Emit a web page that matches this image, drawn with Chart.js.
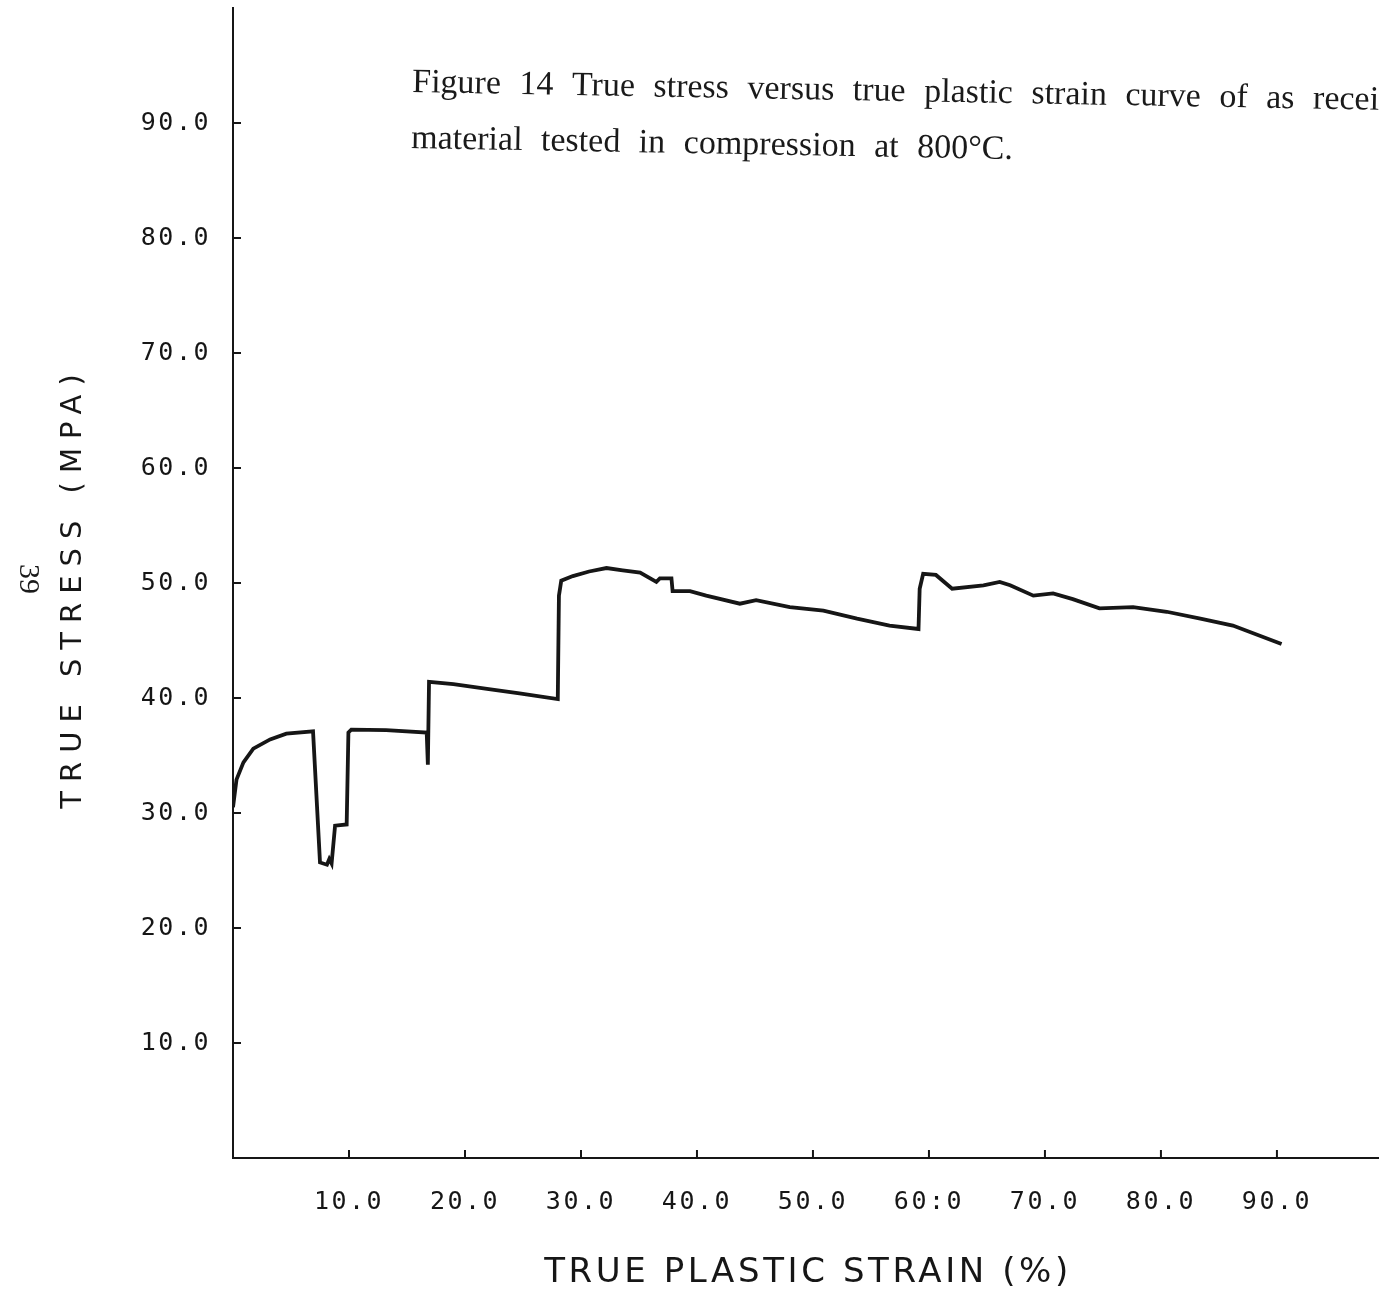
<!DOCTYPE html>
<html>
<head>
<meta charset="utf-8">
<script src="https://cdn.jsdelivr.net/npm/chart.js@4/dist/chart.umd.min.js"></script>
<style>
  html, body { margin: 0; padding: 0; background: #fff; }
  #wrap { width: 1379px; height: 1294px; }
</style>
</head>
<body>
<div id="wrap"><canvas id="stressChart" width="1379" height="1294"></canvas></div>
<script>
// Curve: true plastic strain (%) and true stress (MPa)
const strain = [0, 0.3, 0.9, 1.75, 3.2, 4.6, 6.9, 7.5, 8.1, 8.3, 8.5, 8.8, 9.8, 9.95, 10.2, 13.2, 16.7, 16.8, 16.9,
    19.0, 21.9, 24.7, 28.0, 28.1, 28.3, 29.3, 30.7, 32.2, 33.6, 35.1, 36.5, 36.8, 37.8, 37.9, 39.4, 40.8,
    43.7, 45.1, 48.0, 50.9, 53.8, 56.6, 59.1, 59.2, 59.5, 60.6, 62.0, 64.7, 66.1, 67.0, 69.0, 70.7, 72.4,
    74.7, 77.6, 80.5, 83.4, 86.2, 90.4];
const stress = [30.5, 32.9, 34.4, 35.6, 36.4, 36.9, 37.1, 25.7, 25.5, 26.0, 25.6, 28.9, 29.0, 37.0, 37.25, 37.2, 37.0, 34.2, 41.4,
    41.2, 40.8, 40.4, 39.9, 48.9, 50.2, 50.6, 51.0, 51.3, 51.1, 50.9, 50.1, 50.4, 50.4, 49.3, 49.3, 48.9,
    48.2, 48.5, 47.9, 47.6, 46.9, 46.3, 46.0, 49.5, 50.8, 50.7, 49.5, 49.8, 50.1, 49.8, 48.9, 49.1, 48.6,
    47.8, 47.9, 47.5, 46.9, 46.3, 44.7];

// Tick values and the labels printed next to them
const xTickValues = [10, 20, 30, 40, 50, 60, 70, 80, 90];
const xTickLabels = ['10.0', '20.0', '30.0', '40.0', '50.0', '60:0', '70.0', '80.0', '90.0'];
const yTickValues = [10, 20, 30, 40, 50, 60, 70, 80, 90];
const yTickLabels = ['10.0', '20.0', '30.0', '40.0', '50.0', '60.0', '70.0', '80.0', '90.0'];

const xTitle = 'TRUE PLASTIC STRAIN (%)';
const yTitle = 'TRUE STRESS (MPA)';
const captionLines = [
    'Figure 14 True stress versus true plastic strain curve of as recei',
    'material tested in compression at 800\u00b0C.'
];
const pageNumber = '39';

const ink = '#161616';
const tickFont = { family: "'DejaVu Sans Mono', 'Liberation Mono', monospace", size: 25 };
const titleFamily = "'DejaVu Sans', 'Liberation Sans', sans-serif";

function labelFor(values, labels, v) {
    const i = values.indexOf(v);
    return i >= 0 ? labels[i] : '';
}

// Plotter lettering is spaced out a bit
const spacingPlugin = {
    id: 'spacing',
    beforeDraw(chart) {
        chart.ctx.letterSpacing = '2.5px';
    }
};

// Inward tick marks, axis titles, caption and page number
const extrasPlugin = {
    id: 'extras',
    afterDraw(chart) {
        const ctx = chart.ctx;
        const x = chart.scales.x;
        const y = chart.scales.y;
        const area = chart.chartArea;

        ctx.save();
        ctx.strokeStyle = ink;
        ctx.lineWidth = 2;
        xTickValues.forEach(v => {
            const px = x.getPixelForValue(v);
            ctx.beginPath();
            ctx.moveTo(px, area.bottom);
            ctx.lineTo(px, area.bottom - 8);
            ctx.stroke();
        });
        yTickValues.forEach(v => {
            const py = y.getPixelForValue(v);
            ctx.beginPath();
            ctx.moveTo(area.left, py);
            ctx.lineTo(area.left + 8, py);
            ctx.stroke();
        });
        ctx.restore();

        // axis titles
        ctx.save();
        ctx.fillStyle = ink;
        ctx.textAlign = 'center';
        ctx.textBaseline = 'middle';
        ctx.font = '34px ' + titleFamily;
        ctx.letterSpacing = '3.6px';
        ctx.fillText(xTitle, (area.left + area.right) / 2 + 2, 1273);
        ctx.translate(73, 591);
        ctx.rotate(-Math.PI / 2);
        ctx.font = '29px ' + titleFamily;
        ctx.letterSpacing = '9px';
        ctx.fillText(yTitle, 4, 0);
        ctx.restore();

        // typed caption, slightly skewed on the page
        ctx.save();
        ctx.fillStyle = '#1a1a1a';
        ctx.font = "34px 'Liberation Serif', 'DejaVu Serif', serif";
        ctx.letterSpacing = '0px';
        ctx.wordSpacing = '10px';
        ctx.textBaseline = 'alphabetic';
        ctx.translate(412, 92);
        ctx.rotate(1.05 * Math.PI / 180);
        ctx.fillText(captionLines[0], 0, 0);
        ctx.fillText(captionLines[1], 0, 56);
        ctx.restore();

        // page number, turned sideways
        ctx.save();
        ctx.fillStyle = '#1a1a1a';
        ctx.font = "30px 'Liberation Serif', serif";
        ctx.letterSpacing = '0px';
        ctx.translate(28, 579);
        ctx.rotate(Math.PI / 2);
        ctx.textAlign = 'center';
        ctx.textBaseline = 'middle';
        ctx.fillText(pageNumber, 0, 0);
        ctx.restore();
    }
};

const points = strain.map((s, i) => ({ x: s, y: stress[i] }));

// drop the automatic edge padding so the plot box fills the page
function noScalePadding(s) {
    s.paddingTop = 0;
    s.paddingBottom = 0;
    s.paddingLeft = 0;
    s.paddingRight = 0;
}

new Chart(document.getElementById('stressChart'), {
    type: 'scatter',
    data: {
        datasets: [{
            data: points,
            showLine: true,
            borderColor: ink,
            borderWidth: 3.8,
            pointRadius: 0,
            tension: 0
        }]
    },
    options: {
        responsive: false,
        animation: false,
        layout: { padding: { top: 8, right: 0, left: 0, bottom: 0 } },
        plugins: {
            legend: { display: false },
            tooltip: { enabled: false }
        },
        scales: {
            x: {
                type: 'linear',
                min: 0,
                max: 98.8,
                afterFit: s => { s.height = 136; noScalePadding(s); },
                grid: { display: false, drawTicks: false },
                border: { display: true, color: ink, width: 2 },
                ticks: {
                    stepSize: 10,
                    padding: 29,
                    color: ink,
                    font: tickFont,
                    maxRotation: 0,
                    autoSkip: false,
                    callback: v => labelFor(xTickValues, xTickLabels, v)
                },
                title: { display: false }
            },
            y: {
                type: 'linear',
                min: 0,
                max: 100,
                afterFit: s => { s.width = 233; noScalePadding(s); },
                grid: { display: false, drawTicks: false },
                border: { display: true, color: ink, width: 2 },
                ticks: {
                    stepSize: 10,
                    padding: 22,
                    color: ink,
                    font: tickFont,
                    autoSkip: false,
                    callback: v => labelFor(yTickValues, yTickLabels, v)
                },
                title: { display: false }
            }
        }
    },
    plugins: [spacingPlugin, extrasPlugin]
});
</script>
</body>
</html>
